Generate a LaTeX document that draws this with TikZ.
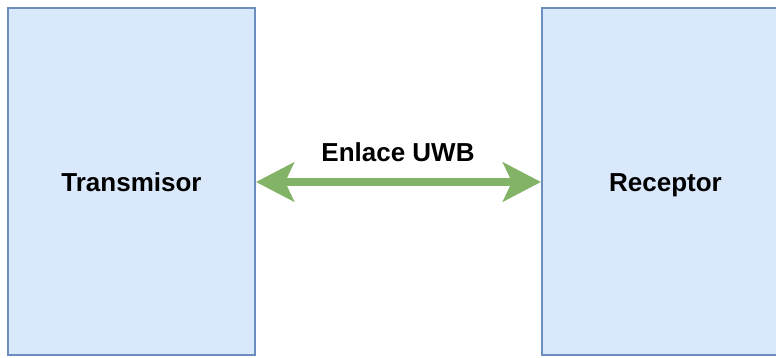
\documentclass[tikz,border=0pt]{standalone}
\usepackage{fontspec}
\setmainfont{Liberation Sans}
\usetikzlibrary{arrows.meta}
\definecolor{boxfill}{HTML}{DAE8FC}
\definecolor{boxline}{HTML}{6C8EBF}
\definecolor{linkgreen}{HTML}{82B366}
\begin{document}
\begin{tikzpicture}[x=1pt,y=1pt,
  box/.style={draw=boxline, fill=boxfill, line width=2pt,
    minimum width=247pt, minimum height=347pt, inner sep=0pt,
    text height=19pt, text depth=0pt,
    font=\fontsize{26}{30}\selectfont\bfseries},
  link/.style={draw=linkgreen, line width=8pt,
    {Stealth[length=38pt,width=39pt,inset=9pt,fill=linkgreen]}-{Stealth[length=38pt,width=39pt,inset=9pt,fill=linkgreen]}},
  lbl/.style={font=\fontsize{26}{30}\selectfont\bfseries, inner sep=0pt}]
  \useasboundingbox (0,0) rectangle (776,358);
  \clip (0,0) rectangle (776,358);
  \node[box] (tx) at (131.5,176) {Transmisor};
  \node[box] (rx) at (665.5,176) {Receptor};
  \draw[link] (tx.east) -- (rx.west);
  \node[lbl] (uwb) at (398,206) {Enlace UWB};
\end{tikzpicture}
\end{document}
